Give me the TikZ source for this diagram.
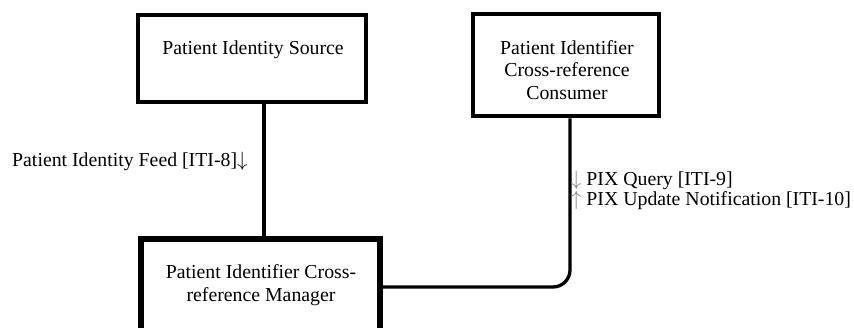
\documentclass[tikz,border=0pt]{standalone}
\usepackage{fontspec}
\setmainfont{Liberation Serif}
\begin{document}
\begin{tikzpicture}[x=1bp,y=-1bp,
  actor/.style={draw=black, line width=4.8bp, rectangle, inner sep=0pt},
  actortext/.style={align=center, inner sep=0pt, font=\fontsize{19.8bp}{22.5bp}\selectfont},
  flow/.style={draw=black, line width=3.3bp},
  txlabel/.style={inner sep=0pt, font=\fontsize{19.8bp}{17.5bp}\selectfont, align=left}]
  \useasboundingbox (0,0) rectangle (854,327);
  \clip (0,0) rectangle (854,327);
  \fill[white] (0,0) rectangle (854,327);

  % actor boxes
  \node[actor, minimum width=228bp, minimum height=87bp] (src) at (252,58.5) {};
  \node[actor, minimum width=186bp, minimum height=102bp] (cons) at (566,65) {};
  \node[actor, line width=6bp, minimum width=239bp, minimum height=160bp] (mgr) at (260.5,319) {};

  % actor names (anchored on the baseline of the last line)
  \node[actortext, anchor=base] (srct) at (253,54) {Patient Identity Source};
  \node[actortext, anchor=base] (const) at (567,99) {Patient Identifier\\Cross-reference\\Consumer};
  \node[actortext, anchor=base] (mgrt) at (261,301) {Patient Identifier Cross-\\reference Manager};

  % transactions
  \coordinate (feedx) at (264,0);
  \coordinate (pixx) at (570,0);
  \coordinate (pixy) at (0,287);
  \draw[flow] (src.south -| feedx) -- (mgr.north -| feedx);
  \draw[flow, rounded corners=17bp] (mgr.east |- pixy) -- (pixx |- pixy) -- (cons.south -| pixx);

  \node[txlabel, anchor=base west] (feed) at (12,166) {Patient Identity Feed [ITI-8]$\downarrow$};
  \node[txlabel, anchor=base west] (pix) at (571,205)
    {\textcolor{gray}{$\downarrow$} PIX Query [ITI-9]\\\textcolor{gray}{$\uparrow$} PIX Update Notification [ITI-10]};
\end{tikzpicture}
\end{document}
